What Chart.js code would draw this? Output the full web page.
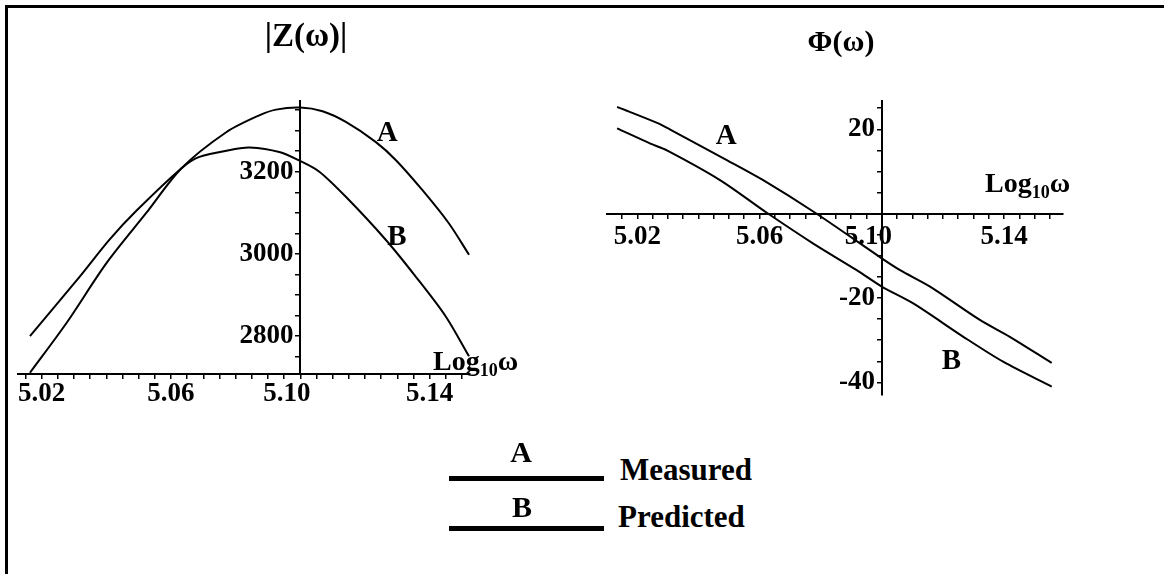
<!DOCTYPE html>
<html>
<head>
<meta charset="utf-8">
<title>|Z(ω)| and Φ(ω) vs Log10ω</title>
<script src="https://cdn.jsdelivr.net/npm/chart.js@4.4.1/dist/chart.umd.min.js"></script>
<style>
  html, body { margin: 0; padding: 0; background: #fff; }
  body { width: 1164px; height: 574px; position: relative; overflow: hidden;
         font-family: "Liberation Serif", serif; font-weight: bold; color: #000; }
  .frame { position: absolute; left: 5px; top: 5px; width: 1200px; height: 600px;
           border-top: 3px solid #000; border-left: 3px solid #000; }
  .box { position: absolute; top: 0; height: 440px; }
  #magBox { left: 0; width: 560px; }
  #phaseBox { left: 560px; width: 604px; }
  .txt { position: absolute; white-space: nowrap; line-height: 1; }
  .mid { transform: translateX(-50%); }
  .sub { font-size: 18px; position: relative; top: 6px; }
  .bar { position: absolute; left: 449px; width: 155px; height: 5px; background: #000; }
</style>
</head>
<body>
<div class="frame"></div>
<div class="box" id="magBox"><canvas id="magChart"></canvas></div>
<div class="box" id="phaseBox"><canvas id="phaseChart"></canvas></div>

<!-- titles and axis names -->
<div class="txt mid" style="left:306px; top:19px; font-size:33px;">|Z(ω)|</div>
<div class="txt mid" style="left:841px; top:26px; font-size:30px;">Φ(ω)</div>
<div class="txt" style="left:433px; top:347px; font-size:28px;">Log<span class="sub">10</span>ω</div>
<div class="txt" style="left:985px; top:169px; font-size:28px;">Log<span class="sub">10</span>ω</div>

<!-- legend -->
<div class="txt mid" style="left:521px; top:437px; font-size:30px;">A</div>
<div class="bar" style="top:476px;"></div>
<div class="txt" style="left:620px; top:454px; font-size:31px;">Measured</div>
<div class="txt mid" style="left:522px; top:492px; font-size:30px;">B</div>
<div class="bar" style="top:526px;"></div>
<div class="txt" style="left:618px; top:501px; font-size:31px;">Predicted</div>

<script>
// 刻度标签
const xTickLabels = ['5.02', '5.06', '5.10', '5.14'];
const magTickLabels = [2800, 3000, 3200];
const phaseTickLabels = [20, -20, -40];

// |Z(ω)| 曲线 (A 实测, B 预测)
const magFreqA = [5.0164, 5.0277, 5.0400, 5.0523, 5.0632, 5.0771, 5.0873, 5.0925, 5.1000, 5.1069, 5.1141, 5.1234, 5.1296, 5.1378, 5.1460, 5.1522];
const magA     = [2711, 2832, 2977, 3099, 3208, 3296, 3337, 3351, 3356, 3347, 3321, 3272, 3228, 3155, 3074, 2998];
const magFreqB = [5.0164, 5.0318, 5.0410, 5.0493, 5.0632, 5.0688, 5.0791, 5.0843, 5.0935, 5.1000, 5.1059, 5.1141, 5.1265, 5.1357, 5.1450, 5.1522];
const magB     = [2800, 2945, 3035, 3105, 3208, 3236, 3254, 3259, 3248, 3226, 3200, 3139, 3034, 2945, 2848, 2751];

// Φ(ω) 曲线
const phaseFreqA = [5.0134, 5.0265, 5.0308, 5.0493, 5.0608, 5.0782, 5.1000, 5.1060, 5.1158, 5.1321, 5.1419, 5.1556];
const phaseA     = [25.3, 21.5, 19.9, 12.7, 8.1, 0.2, -10.6, -13.4, -17.3, -25.2, -29.2, -35.4];
const phaseFreqB = [5.0134, 5.0243, 5.0297, 5.0472, 5.0624, 5.0776, 5.0918, 5.1000, 5.1103, 5.1267, 5.1397, 5.1556];
const phaseB     = [20.2, 16.6, 15.0, 7.9, 0.2, -7.1, -13.4, -17.3, -21.3, -29.2, -35.1, -41.0];

// 曲线旁的 A / B 标记 (数据坐标)
const magMarkX = [5.1269, 5.1299];
const magMarkY = [3294, 3040];
const phaseMarkX = [5.0491, 5.1228];
const phaseMarkY = [18.2, -35.1];

// 两图纵轴都画在 Log10ω = 5.10 处
const axisCross = 5.10;

Chart.defaults.font.family = '"Liberation Serif", serif';
Chart.defaults.font.size = 27;
Chart.defaults.font.weight = 'bold';
Chart.defaults.color = '#000';

function toPoints(xs, ys) {
  return xs.map((x, i) => ({ x: x, y: ys[i] }));
}

// 在曲线旁写 A、B
const curveMarks = {
  id: 'curveMarks',
  afterDatasetsDraw(chart, args, opts) {
    const { ctx, scales: { x, y } } = chart;
    ctx.save();
    ctx.font = 'bold 29px "Liberation Serif", serif';
    ctx.fillStyle = '#000';
    ctx.textAlign = 'center';
    ctx.textBaseline = 'middle';
    ['A', 'B'].forEach((t, i) => {
      ctx.fillText(t, x.getPixelForValue(opts.xs[i]), y.getPixelForValue(opts.ys[i]));
    });
    ctx.restore();
  }
};

function curve(data) {
  return {
    data: data,
    showLine: true,
    borderColor: '#000',
    borderWidth: 2,
    pointRadius: 0,
    tension: 0.3
  };
}

function axis(opts) {
  return {
    type: 'linear',
    min: opts.min,
    max: opts.max,
    position: opts.position,
    border: { color: '#000', width: 2 },
    grid: { drawOnChartArea: false, drawTicks: true, tickLength: 4, color: '#000', lineWidth: 1.5 },
    ticks: {
      stepSize: opts.step,
      autoSkip: false,
      maxRotation: 0,
      minRotation: 0,
      includeBounds: false,
      padding: opts.pad,
      callback: opts.label
    }
  };
}

// 与纵轴重合的 5.10 标签稍向左让开
function xLabel(v) {
  const s = Number(v).toFixed(2);
  if (!xTickLabels.includes(s) || Math.abs(v - Number(s)) > 1e-6) return '';
  return Math.abs(v - axisCross) < 1e-6 ? s + '    ' : s;
}

// 幅值图
new Chart(document.getElementById('magChart'), {
  type: 'scatter',
  data: {
    datasets: [curve(toPoints(magFreqA, magA)), curve(toPoints(magFreqB, magB))]
  },
  options: {
    responsive: true,
    maintainAspectRatio: false,
    animation: false,
    layout: { padding: { left: 18, top: 101, right: 90, bottom: 66 } },
    plugins: {
      legend: { display: false },
      tooltip: { enabled: false },
      curveMarks: { xs: magMarkX, ys: magMarkY }
    },
    scales: {
      x: axis({ min: 5.0127, max: 5.1525, position: { y: 2708 }, step: 0.005, pad: 0, label: xLabel }),
      y: axis({ min: 2708, max: 3372, position: { x: axisCross }, step: 50, pad: 2,
                label: v => magTickLabels.includes(v) ? String(v) + ' ' : '' })
    }
  },
  plugins: [curveMarks]
});

// 相位图
new Chart(document.getElementById('phaseChart'), {
  type: 'scatter',
  data: {
    datasets: [curve(toPoints(phaseFreqA, phaseA)), curve(toPoints(phaseFreqB, phaseB))]
  },
  options: {
    responsive: true,
    maintainAspectRatio: false,
    animation: false,
    layout: { padding: { left: 47, top: 101, right: 101, bottom: 45 } },
    plugins: {
      legend: { display: false },
      tooltip: { enabled: false },
      curveMarks: { xs: phaseMarkX, ys: phaseMarkY }
    },
    scales: {
      x: axis({ min: 5.0101, max: 5.1593, position: { y: 0 }, step: 0.005, pad: 3, label: xLabel }),
      y: axis({ min: -43, max: 26.7, position: { x: axisCross }, step: 5, pad: 2,
                label: v => phaseTickLabels.includes(v) ? String(v) + ' ' : '' })
    }
  },
  plugins: [curveMarks]
});
</script>
</body>
</html>
